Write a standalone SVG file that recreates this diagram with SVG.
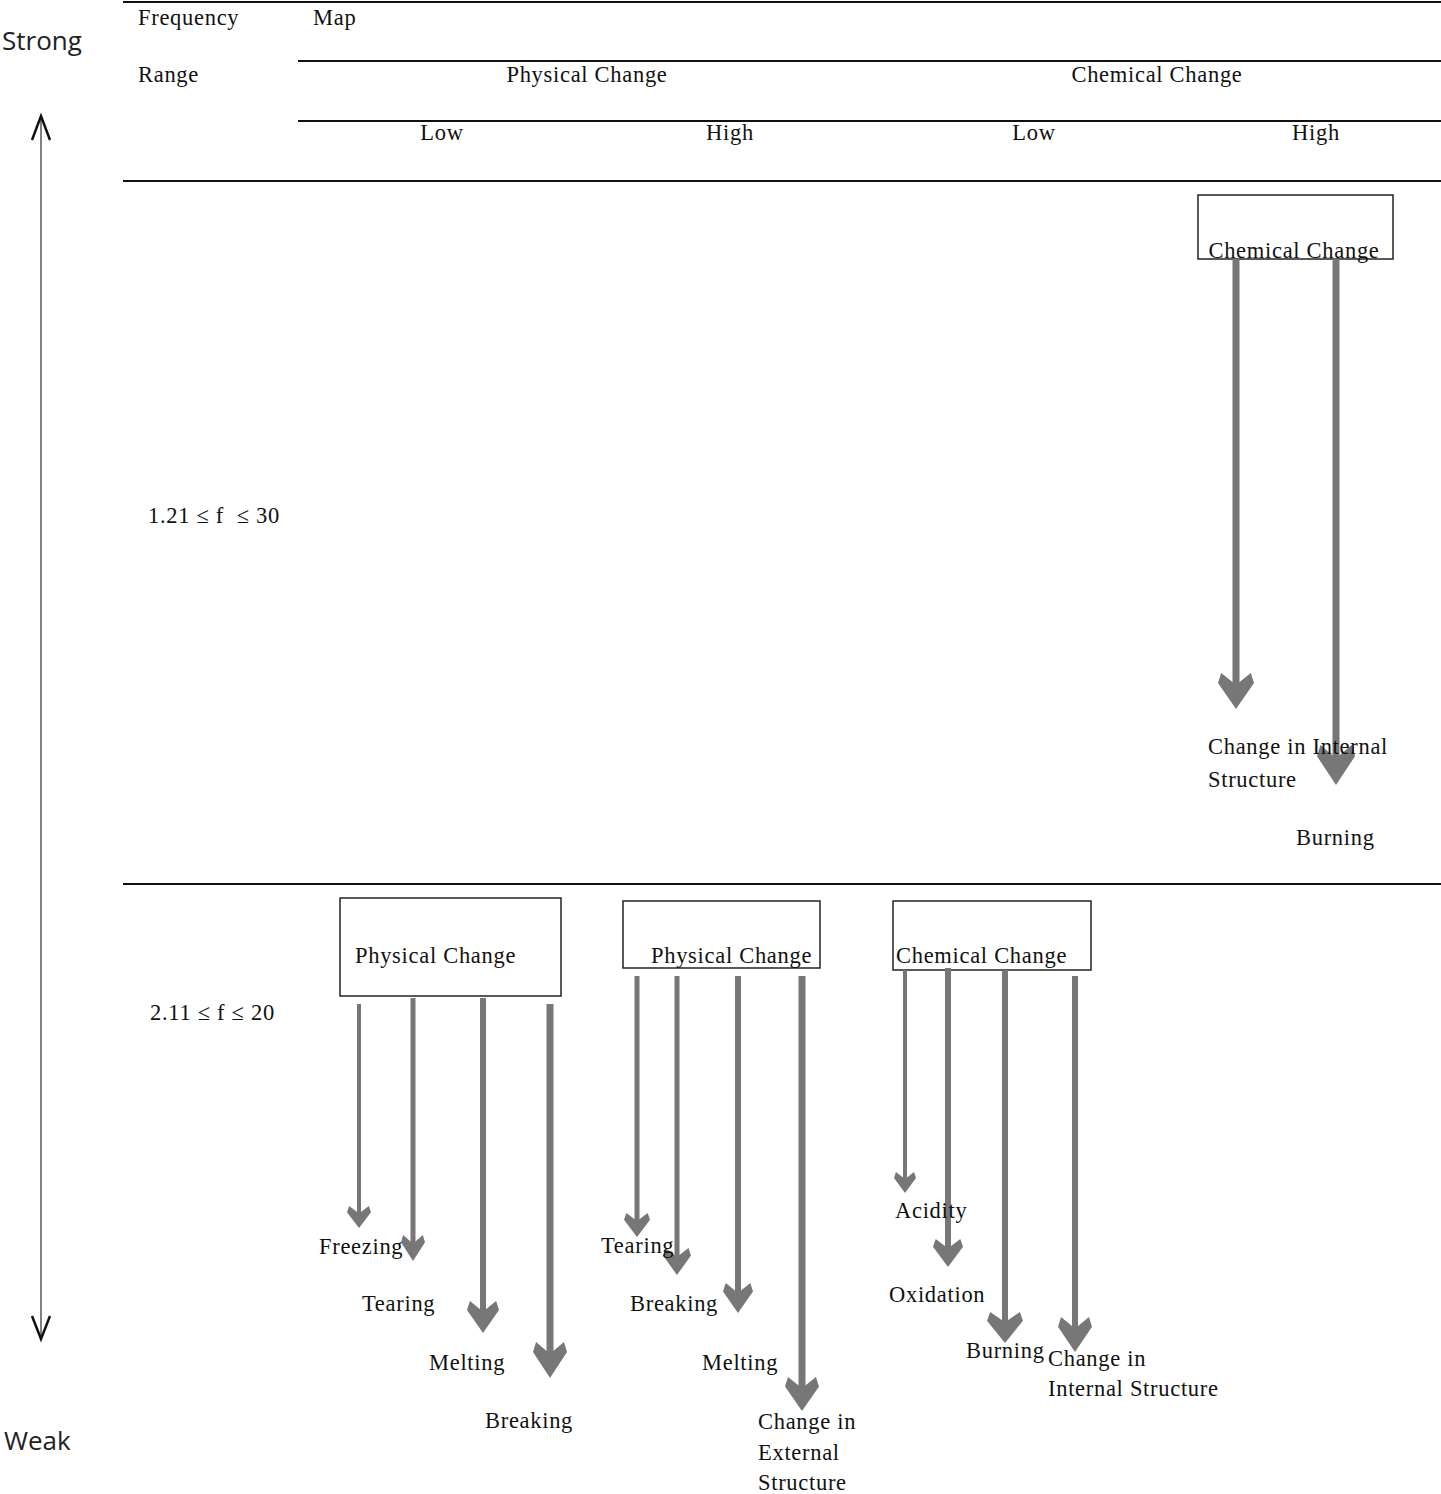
<svg xmlns="http://www.w3.org/2000/svg" xmlns:xlink="http://www.w3.org/1999/xlink" width="1441" height="1494" viewBox="0 0 1441 1494">
<style>
.t{font-family:"Liberation Serif","Times New Roman",serif;font-size:22.5px;letter-spacing:0.7px;fill:#111}
.s{font-family:"Open Sans","Liberation Sans",sans-serif;font-size:26px;fill:#222}
.rule{stroke:#111;stroke-width:2}
.box{fill:none;stroke:#222;stroke-width:1.5}
.shaft{stroke:#777}
.hd{fill:#777}
</style>
<defs>
<path id="head" d="M0,0 L-1,-0.72 L-0.82,-1 L-0.18,-0.74 L0.18,-0.74 L0.82,-1 L1,-0.72 Z"/>
</defs>
<rect width="1441" height="1494" fill="#fff"/>
<g id="table">
<line class="rule" x1="123" y1="2" x2="1441" y2="2"/>
<line class="rule" x1="298" y1="61" x2="1441" y2="61"/>
<line class="rule" x1="298" y1="121" x2="1441" y2="121"/>
<line class="rule" x1="123" y1="181" x2="1441" y2="181"/>
<line class="rule" x1="123" y1="884" x2="1441" y2="884"/>
<text class="t" x="138" y="25">Frequency</text>
<text class="t" x="313" y="25">Map</text>
<text class="t" x="138" y="82">Range</text>
<text class="t" x="587" y="82" text-anchor="middle">Physical Change</text>
<text class="t" x="1157" y="82" text-anchor="middle">Chemical Change</text>
<text class="t" x="442" y="140" text-anchor="middle">Low</text>
<text class="t" x="730" y="140" text-anchor="middle">High</text>
<text class="t" x="1034" y="140" text-anchor="middle">Low</text>
<text class="t" x="1316" y="140" text-anchor="middle">High</text>
<text class="t" x="148" y="523" xml:space="preserve">1.21 ≤ f  ≤ 30</text>
<text class="t" x="150" y="1020">2.11 ≤ f ≤ 20</text>
</g>
<g id="axis">
<text class="s" x="2" y="50">Strong</text>
<text class="s" x="4" y="1450">Weak</text>
<line x1="41" y1="118" x2="41" y2="1337" stroke="#808080" stroke-width="2"/>
<polyline points="32,140 41,116 50,140" fill="none" stroke="#111" stroke-width="2.5"/>
<polyline points="32,1316 41,1339 50,1316" fill="none" stroke="#111" stroke-width="2.5"/>
</g>
<g id="node-chem-top">
<rect class="box" x="1198" y="195" width="195" height="64"/>
<text class="t" x="1294" y="258" text-anchor="middle">Chemical Change</text>
</g>
<g id="node-phys-1">
<rect class="box" x="340" y="898" width="221" height="98"/>
<text class="t" x="355" y="963">Physical Change</text>
</g>
<g id="node-phys-2">
<rect class="box" x="623" y="901" width="197" height="67"/>
<text class="t" x="651" y="963">Physical Change</text>
</g>
<g id="node-chem-2">
<rect class="box" x="893" y="901" width="198" height="69"/>
<text class="t" x="896" y="963">Chemical Change</text>
</g>
<g id="connectors">
<line class="shaft" x1="1236" y1="259" x2="1236" y2="692" stroke-width="7"/>
<use xlink:href="#head" class="hd" transform="translate(1236,709) scale(18,36)"/>
<line class="shaft" x1="1336" y1="259" x2="1336" y2="765" stroke-width="7"/>
<use xlink:href="#head" class="hd" transform="translate(1336,785) scale(19,40)"/>

<line class="shaft" x1="359" y1="1004" x2="359" y2="1218" stroke-width="4"/>
<use xlink:href="#head" class="hd" transform="translate(359,1228) scale(12,22)"/>
<line class="shaft" x1="413" y1="998" x2="413" y2="1248" stroke-width="5"/>
<use xlink:href="#head" class="hd" transform="translate(413,1261) scale(12,26)"/>
<line class="shaft" x1="483" y1="998" x2="483" y2="1317" stroke-width="6"/>
<use xlink:href="#head" class="hd" transform="translate(483,1333) scale(16,32)"/>
<line class="shaft" x1="550" y1="1004" x2="550" y2="1360" stroke-width="7"/>
<use xlink:href="#head" class="hd" transform="translate(550,1378) scale(17,36)"/>

<line class="shaft" x1="637" y1="976" x2="637" y2="1225" stroke-width="5"/>
<use xlink:href="#head" class="hd" transform="translate(637,1237) scale(13,24)"/>
<line class="shaft" x1="677" y1="976" x2="677" y2="1261" stroke-width="5"/>
<use xlink:href="#head" class="hd" transform="translate(677,1275) scale(14,27)"/>
<line class="shaft" x1="738" y1="976" x2="738" y2="1298" stroke-width="6"/>
<use xlink:href="#head" class="hd" transform="translate(738,1313) scale(15,30)"/>
<line class="shaft" x1="802" y1="976" x2="802" y2="1394" stroke-width="7"/>
<use xlink:href="#head" class="hd" transform="translate(802,1411) scale(17,34)"/>

<line class="shaft" x1="905" y1="970" x2="905" y2="1183" stroke-width="4"/>
<use xlink:href="#head" class="hd" transform="translate(905,1193) scale(11,21)"/>
<line class="shaft" x1="948" y1="968" x2="948" y2="1253" stroke-width="6"/>
<use xlink:href="#head" class="hd" transform="translate(948,1267) scale(15,28)"/>
<line class="shaft" x1="1005" y1="970" x2="1005" y2="1327" stroke-width="6"/>
<use xlink:href="#head" class="hd" transform="translate(1005,1343) scale(18,31)"/>
<line class="shaft" x1="1075" y1="976" x2="1075" y2="1334" stroke-width="6"/>
<use xlink:href="#head" class="hd" transform="translate(1075,1352) scale(17,35)"/>
</g>
<g id="labels">
<text class="t" x="1208" y="754">Change in Internal</text>
<text class="t" x="1208" y="787">Structure</text>
<text class="t" x="1296" y="845">Burning</text>
<text class="t" x="319" y="1254">Freezing</text>
<text class="t" x="362" y="1311">Tearing</text>
<text class="t" x="429" y="1370">Melting</text>
<text class="t" x="485" y="1428">Breaking</text>
<text class="t" x="601" y="1253">Tearing</text>
<text class="t" x="630" y="1311">Breaking</text>
<text class="t" x="702" y="1370">Melting</text>
<text class="t" x="758" y="1429">Change in</text>
<text class="t" x="758" y="1460">External</text>
<text class="t" x="758" y="1490">Structure</text>
<text class="t" x="895" y="1218">Acidity</text>
<text class="t" x="889" y="1302">Oxidation</text>
<text class="t" x="966" y="1358">Burning</text>
<text class="t" x="1048" y="1366">Change in</text>
<text class="t" x="1048" y="1396">Internal Structure</text>
</g>
</svg>
